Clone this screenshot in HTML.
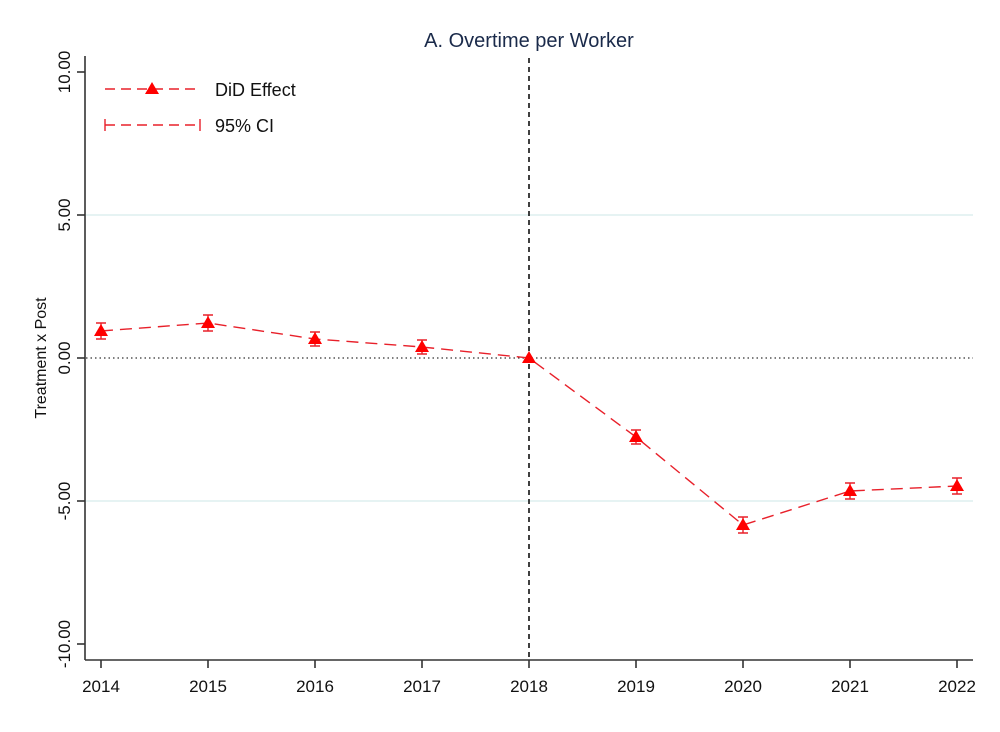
<!DOCTYPE html>
<html><head><style>body{margin:0;background:#fff}</style></head><body>
<svg width="1000" height="727" viewBox="0 0 1000 727" xmlns="http://www.w3.org/2000/svg" font-family="Liberation Sans, sans-serif">
<rect width="1000" height="727" fill="#fff"/>
<text x="529" y="47" text-anchor="middle" font-size="20" fill="#1a2a4a">A. Overtime per Worker</text>
<g stroke="#d6ecec" stroke-width="1.3">
<line x1="86" y1="215" x2="973" y2="215"/>
<line x1="86" y1="501" x2="973" y2="501"/>
</g>
<line x1="86" y1="358" x2="973" y2="358" stroke="#333" stroke-width="1.2" stroke-dasharray="1.5,3"/>
<line x1="529" y1="58" x2="529" y2="660" stroke="#111" stroke-width="1.6" stroke-dasharray="5,4"/>
<g stroke="#333" stroke-width="1.6">
<line x1="85" y1="56" x2="85" y2="660"/>
<line x1="85" y1="660" x2="973" y2="660"/>
<line x1="77" y1="72" x2="85" y2="72"/><line x1="77" y1="215" x2="85" y2="215"/><line x1="77" y1="358" x2="85" y2="358"/><line x1="77" y1="501" x2="85" y2="501"/><line x1="77" y1="644" x2="85" y2="644"/>
<line x1="101" y1="660" x2="101" y2="668"/><line x1="208" y1="660" x2="208" y2="668"/><line x1="315" y1="660" x2="315" y2="668"/><line x1="422" y1="660" x2="422" y2="668"/><line x1="529" y1="660" x2="529" y2="668"/><line x1="636" y1="660" x2="636" y2="668"/><line x1="743" y1="660" x2="743" y2="668"/><line x1="850" y1="660" x2="850" y2="668"/><line x1="957" y1="660" x2="957" y2="668"/>
</g>
<g font-size="17" fill="#111" text-anchor="middle">
<text x="101" y="692">2014</text><text x="208" y="692">2015</text><text x="315" y="692">2016</text><text x="422" y="692">2017</text><text x="529" y="692">2018</text><text x="636" y="692">2019</text><text x="743" y="692">2020</text><text x="850" y="692">2021</text><text x="957" y="692">2022</text>
<text transform="translate(70,72) rotate(-90)">10.00</text>
<text transform="translate(70,215) rotate(-90)">5.00</text>
<text transform="translate(70,358) rotate(-90)">0.00</text>
<text transform="translate(70,501) rotate(-90)">-5.00</text>
<text transform="translate(70,644) rotate(-90)">-10.00</text>
<text transform="translate(46,358) rotate(-90)" font-size="16">Treatment x Post</text>
</g>
<polyline fill="none" stroke="#e8202a" stroke-width="1.4" stroke-dasharray="12,7" points="101,331 208,323 315,339 422,347 529,358 636,437 743,525 850,491 957,486"/>
<g stroke="#e8202a" stroke-width="1.4" fill="none">
<path d="M101,323V339M96,323h10M96,339h10"/>
<path d="M208,315V331M203,315h10M203,331h10"/>
<path d="M315,332V346M310,332h10M310,346h10"/>
<path d="M422,340V354M417,340h10M417,354h10"/>
<path d="M636,430V444M631,430h10M631,444h10"/>
<path d="M743,517V533M738,517h10M738,533h10"/>
<path d="M850,483V499M845,483h10M845,499h10"/>
<path d="M957,478V494M952,478h10M952,494h10"/>
</g>
<g fill="#f00">
<path d="M101,324l7,12h-14z"/><path d="M208,316l7,12h-14z"/><path d="M315,332l7,12h-14z"/><path d="M422,340l7,12h-14z"/><path d="M529,351l7,12h-14z"/><path d="M636,430l7,12h-14z"/><path d="M743,518l7,12h-14z"/><path d="M850,484l7,12h-14z"/><path d="M957,479l7,12h-14z"/>
</g>
<line x1="105" y1="89" x2="200" y2="89" stroke="#e8202a" stroke-width="1.4" stroke-dasharray="10,6"/>
<path d="M152,82l7,12h-14z" fill="#f00"/>
<text x="215" y="96" font-size="18" fill="#111">DiD Effect</text>
<line x1="105" y1="125" x2="200" y2="125" stroke="#e8202a" stroke-width="1.4" stroke-dasharray="10,6"/>
<path d="M105,119V131M200,119V131" stroke="#e8202a" stroke-width="1.4"/>
<text x="215" y="132" font-size="18" fill="#111">95% CI</text>
</svg>
</body></html>
